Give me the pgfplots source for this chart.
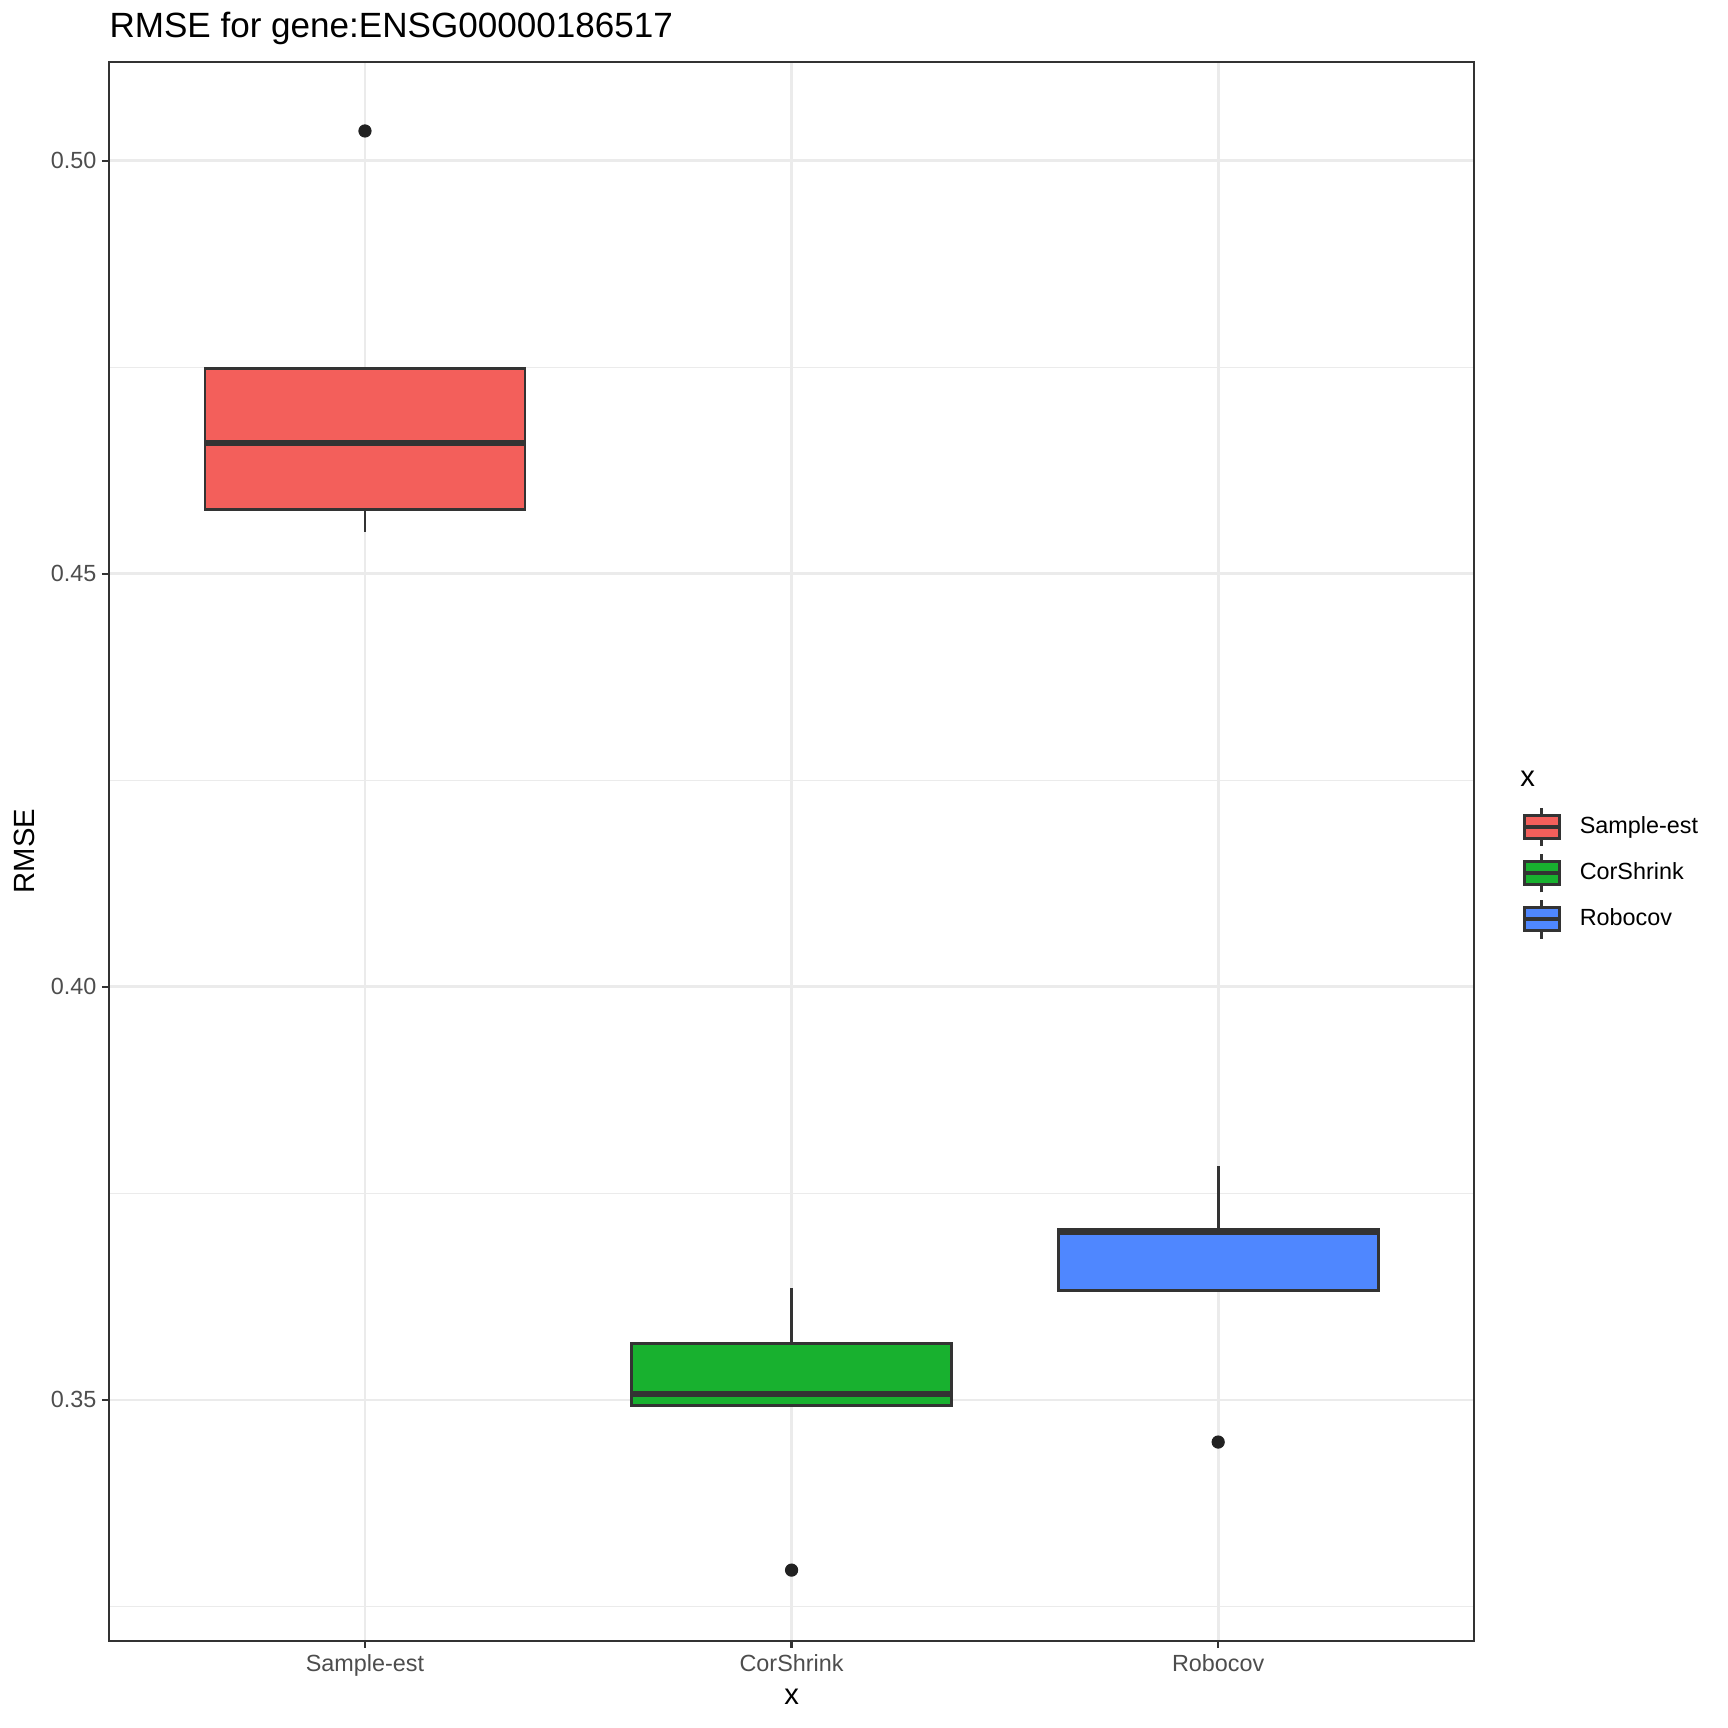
\documentclass[border=0pt]{standalone}
\usepackage{fontspec}
\setmainfont{Liberation Sans}
\usepackage{pgfplots}
\pgfplotsset{compat=1.18}
\definecolor{gg20}{HTML}{333333}
\definecolor{gg30}{HTML}{4D4D4D}
\definecolor{gg92}{HTML}{EBEBEB}
\definecolor{cred}{HTML}{F35F5B}
\definecolor{cgreen}{HTML}{18B12F}
\definecolor{cblue}{HTML}{4F87FF}
\pgfplotsset{boxleg/.style={legend image code/.code={%
  \path[draw=none,fill=none] (0pt,-8.64pt) rectangle (17.28pt,8.64pt);
  \draw[line width=1.1pt,draw=gg20] (8.64pt,-7.6pt) -- (8.64pt,7.6pt);
  \draw[line width=1.1pt,draw=gg20,fill=#1,line join=miter] (1.7pt,-4.5pt) rectangle (15.58pt,4.5pt);
  \draw[line width=1.6pt,draw=gg20] (1.7pt,0pt) -- (15.58pt,0pt);
}}}
\pgfplotsset{
  whisk/.style={draw=gg20, line width=1.1pt, forget plot},
  boxs/.style={draw=gg20, fill=#1, line width=1.1pt, line join=miter, forget plot},
  med/.style={draw=gg20, line width=2.2pt, forget plot},
}
\begin{document}
\begin{tikzpicture}
\path[use as bounding box] (-42.9pt,-34.4pt) rectangle (637.1pt,645.6pt);
\begin{axis}[
  scale only axis, width=537.2pt, height=621.3pt,
  xmin=0.4, xmax=3.6, ymin=0.32087, ymax=0.51198,
  xtick={1,2,3}, xticklabels={Sample-est,CorShrink,Robocov},
  ytick={0.35,0.40,0.45,0.50}, yticklabels={0.35,0.40,0.45,0.50},
  minor ytick={0.325,0.375,0.425,0.475},
  xmajorgrids, ymajorgrids, yminorgrids,
  major grid style={line width=1.1pt, color=gg92},
  minor grid style={line width=0.55pt, color=gg92},
  tick align=outside, tick pos=left,
  major tick length=2.85pt, minor tick length=0pt,
  tick style={color=gg20, line width=0.85pt},
  axis line style={color=gg20, line width=0.75pt},
  xticklabel style={font=\fontsize{9.2}{11}\selectfont, color=gg30, inner sep=0pt, anchor=north, yshift=-2.6pt},
  yticklabel style={font=\fontsize{9.2}{11}\selectfont, color=gg30, inner sep=0pt, anchor=east, xshift=-1.9pt},
  xlabel={x}, ylabel={RMSE},
  every axis x label/.style={at={(rel axis cs:0.5,0)}, yshift=-22pt, anchor=center, inner sep=0pt, font=\fontsize{11.5}{13.8}\selectfont},
  every axis y label/.style={at={(rel axis cs:0,0.5)}, xshift=-33.4pt, rotate=90, anchor=center, inner sep=0pt, font=\fontsize{11.5}{13.8}\selectfont},
  clip=false,
  legend style={draw=none, fill=none, at={(rel axis cs:1,0.5)}, anchor=west, xshift=18pt, yshift=-8.6pt, inner sep=0pt, outer sep=0pt, row sep=0.9pt, column sep=6.3pt, nodes={inner sep=0pt}, font=\fontsize{9.2}{11}\selectfont},
  legend cell align=left,
]
% Sample-est
\addplot[whisk] coordinates {(1,0.4578) (1,0.4551)};
\addplot[boxs=cred] coordinates {(0.625,0.4578) (1.375,0.4578) (1.375,0.4748) (0.625,0.4748)} -- cycle;
\addplot[med] coordinates {(0.625,0.4658) (1.375,0.4658)};
% CorShrink
\addplot[whisk] coordinates {(2,0.3568) (2,0.3635)};
\addplot[boxs=cgreen] coordinates {(1.625,0.3493) (2.375,0.3493) (2.375,0.3568) (1.625,0.3568)} -- cycle;
\addplot[med] coordinates {(1.625,0.3507) (2.375,0.3507)};
% Robocov
\addplot[whisk] coordinates {(3,0.3707) (3,0.3783)};
\addplot[boxs=cblue] coordinates {(2.625,0.3632) (3.375,0.3632) (3.375,0.3707) (2.625,0.3707)} -- cycle;
\addplot[med] coordinates {(2.625,0.3703) (3.375,0.3703)};
% outliers
\addplot[only marks, mark=*, mark size=2.4pt, color=black!87, forget plot] coordinates {(1,0.5036) (2,0.3294) (3,0.3449)};
\addlegendimage{boxleg=cred}\addlegendentry{Sample-est}
\addlegendimage{boxleg=cgreen}\addlegendentry{CorShrink}
\addlegendimage{boxleg=cblue}\addlegendentry{Robocov}
\node[anchor=base west, inner sep=0pt, font=\fontsize{13.8}{16.5}\selectfont] at (rel axis cs:0,1) [yshift=9.7pt] {RMSE for gene:ENSG00000186517};
\node[anchor=west, inner sep=0pt, font=\fontsize{11.5}{13.8}\selectfont] at (rel axis cs:1,0.5) [xshift=18pt, yshift=28.4pt] {x};
\end{axis}
\end{tikzpicture}
\end{document}
